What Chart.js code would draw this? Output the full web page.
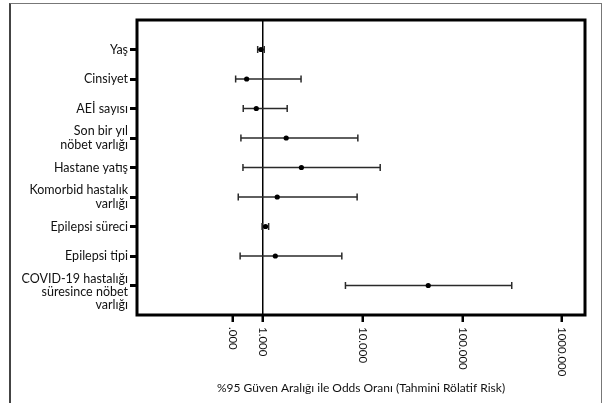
<!DOCTYPE html>
<html>
<head>
<meta charset="utf-8">
<script src="https://cdn.jsdelivr.net/npm/chart.js@4"></script>
<style>
  body { margin: 0; background: #fff; }
  #wrap { position: relative; width: 608px; height: 403px; overflow: hidden; }
  #frame { position: absolute; left: 9px; top: 3px; width: 590px; height: 420px;
           border: 1px solid #777; border-left: 2px solid #444; }
  canvas { position: absolute; left: 0; top: 0; }
</style>
</head>
<body>
<div id="wrap">
  <div id="frame"></div>
  <canvas id="forest" width="608" height="403"></canvas>
</div>
<script>
// kategoriler (y ekseni)
const labels = [
    "Yaş",
    "Cinsiyet",
    "AEİ sayısı",
    ["Son bir yıl", "nöbet varlığı"],
    "Hastane yatış",
    ["Komorbid hastalık", "varlığı"],
    "Epilepsi süreci",
    "Epilepsi tipi",
    ["", "COVID-19 hastalığı", "süresince nöbet", "varlığı"]
];

// odds oranı ve %95 GA
const oddsRatio = [0.955, 0.686, 0.857, 1.71, 2.43, 1.39, 1.06, 1.33, 45.5];
const ciLow     = [0.885, 0.532, 0.634, 0.601, 0.63, 0.565, 0.98, 0.59, 6.72];
const ciHigh    = [1.03, 2.41, 1.75, 8.95, 15.0, 8.8, 1.14, 6.18, 313];

// x ekseni tikleri
const xTickValues = [0.5, 1, 10, 100, 1000];
const xTickLabels = [".000", "1.000", "10.000", "100.000", "1000.000"];

const FONT = "Lato";

const datasets = [{
    type: "scatter",
    data: oddsRatio.map((v, i) => ({ x: v, y: i })),
    pointRadius: 2.6,
    pointBackgroundColor: "#000",
    pointBorderWidth: 0
}];
labels.forEach((lab, i) => {
    datasets.push({
        type: "line",
        data: [{ x: ciLow[i], y: i }, { x: ciHigh[i], y: i }],
        borderColor: "#2a2a2a",
        borderWidth: 1.5,
        pointStyle: "line",
        rotation: 90,
        pointRadius: 3.5,
        pointBorderColor: "#2a2a2a",
        pointBorderWidth: 1.5
    });
});

// çerçeve ve döndürülmüş x etiketleri
const framePlugin = {
    id: "framePlugin",
    afterDraw(chart) {
        const { ctx, chartArea: a, scales } = chart;
        ctx.save();
        ctx.strokeStyle = "#000";
        ctx.lineWidth = 3;
        ctx.strokeRect(a.left, a.top, a.right - a.left, a.bottom - a.top);

        ctx.fillStyle = "#111";
        ctx.font = "11.5px " + FONT;
        ctx.textAlign = "left";
        ctx.textBaseline = "middle";
        xTickValues.forEach((v, i) => {
            const px = scales.x.getPixelForValue(v);
            ctx.save();
            ctx.translate(px, a.bottom + 12);
            ctx.rotate(Math.PI / 2);
            ctx.fillText(xTickLabels[i], 0, 0);
            ctx.restore();
        });
        ctx.restore();
    }
};

new Chart(document.getElementById("forest"), {
    type: "scatter",
    data: { datasets: datasets },
    plugins: [framePlugin],
    options: {
        responsive: false,
        animation: false,
        layout: { padding: { top: 20, right: 23, left: 0, bottom: 0 } },
        plugins: { legend: { display: false }, tooltip: { enabled: false } },
        scales: {
            x: {
                type: "logarithmic",
                min: 0.0545,
                max: 1700,
                afterBuildTicks: (s) => { s.ticks = xTickValues.map(v => ({ value: v })); },
                afterFit: (s) => { s.height = 88; },
                ticks: { display: false },
                border: { display: false },
                grid: {
                    color: (c) => (c.tick && c.tick.value === 1) ? "#000" : "rgba(0,0,0,0)",
                    lineWidth: 1.5,
                    drawTicks: true,
                    tickLength: 7,
                    tickWidth: 2.5,
                    tickColor: "#000"
                },
                title: {
                    display: true,
                    text: "%95 Güven Aralığı ile Odds Oranı (Tahmini Rölatif Risk)",
                    color: "#111",
                    font: { family: FONT, size: 12 },
                    padding: { top: 0, bottom: 8 }
                }
            },
            y: {
                type: "linear",
                reverse: true,
                min: -1,
                max: 9,
                afterBuildTicks: (s) => { s.ticks = labels.map((l, i) => ({ value: i })); },
                afterFit: (s) => { s.width = 137; s.paddingTop = 0; s.paddingBottom = 0; },
                border: { display: false },
                grid: {
                    drawOnChartArea: false,
                    drawTicks: true,
                    tickLength: 7,
                    tickWidth: 3,
                    tickColor: "#000"
                },
                ticks: {
                    autoSkip: false,
                    callback: (v) => labels[v],
                    color: "#111",
                    padding: 2,
                    font: { family: FONT, size: 12.5, lineHeight: 1.06 }
                }
            }
        }
    }
});
</script>
</body>
</html>
